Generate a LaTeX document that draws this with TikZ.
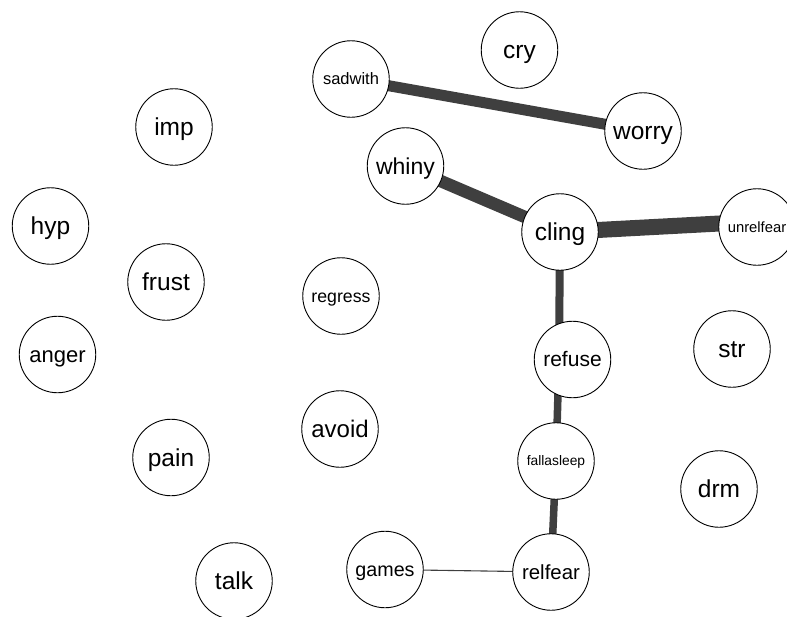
\documentclass[tikz,border=0pt]{standalone}
\usepackage{fontspec}
\setmainfont{Liberation Sans}
\usetikzlibrary{backgrounds}
\definecolor{tiecol}{HTML}{3F3F3F}
\tikzset{
	word/.style={circle,draw,line width=0.9pt,fill=white,minimum size=76.5pt,inner sep=0pt,
		font=\fontsize{#1}{#1}\selectfont,text height={0.7*#1pt},text depth=0pt},
	word/.default=24.5,
	tie/.style={draw=tiecol,line width=#1}
}
\begin{document}
\begin{tikzpicture}[x=1pt,y=-1pt]
		\useasboundingbox (0,0) rectangle (787,616);
		\clip (0,0) rectangle (787,616);
		\node[word=16.5] (sadwith) at (351,79) {sadwith};
		\node[word] (cry) at (519.5,50) {cry};
		\node[word] (worry) at (643,131) {worry};
		\node[word] (imp) at (174,127) {imp};
		\node[word=23] (whiny) at (405.5,166) {whiny};
		\node[word] (hyp) at (50.5,226) {hyp};
		\node[word] (cling) at (560,232) {cling};
		\node[word=14.8] (unrelfear) at (757,227) {unrelfear};
		\node[word] (frust) at (166,282) {frust};
		\node[word=17.7] (regress) at (341,296) {regress};
		\node[word=21] (refuse) at (572.5,359.5) {refuse};
		\node[word] (str) at (732,349) {str};
		\node[word=22] (anger) at (57.5,354.5) {anger};
		\node[word=24] (avoid) at (340,429) {avoid};
		\node[word] (pain) at (171,457.5) {pain};
		\node[word=13.8] (fallasleep) at (556,461) {fallasleep};
		\node[word] (drm) at (719,489) {drm};
		\node[word] (talk) at (234,581) {talk};
		\node[word=19.7] (games) at (385,569.5) {games};
		\node[word=20.4] (relfear) at (551,572) {relfear};
		\begin{pgfonlayer}{background}
		\draw[tie=11pt] (sadwith.center)--(worry.center);
		\draw[tie=12.5pt] (whiny.center)--(cling.center);
		\draw[tie=16pt] (cling.center)--([yshift=5.5pt]unrelfear.center);
		\draw[tie=8pt] (cling.center)--([xshift=-13.5pt]refuse.center);
		\draw[tie=7.5pt] ([xshift=-13.5pt]refuse.center)--(fallasleep.center);
		\draw[tie=7.5pt] (fallasleep.center)--(relfear.center);
		\draw[tie=1.1pt] (games.center)--(relfear.center);
		\end{pgfonlayer}
\end{tikzpicture}
\end{document}
